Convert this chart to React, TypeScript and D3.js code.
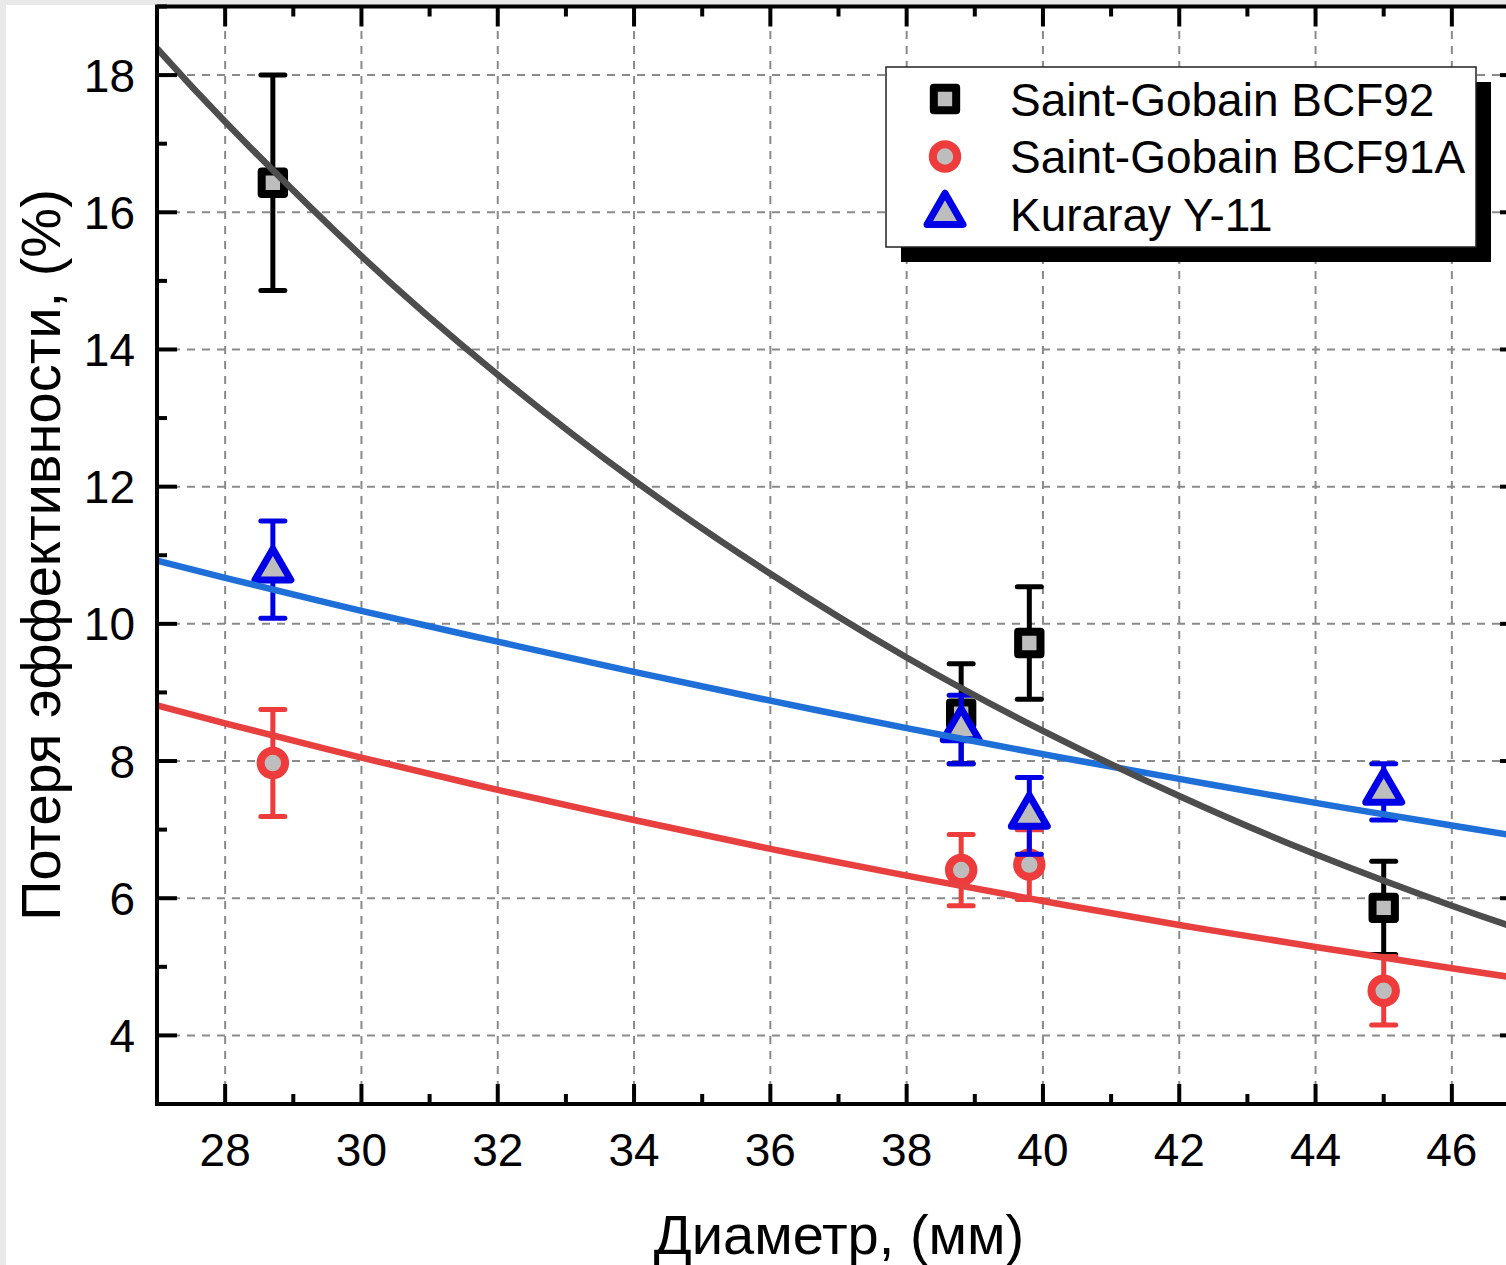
import React, { useEffect, useRef } from 'react';
import * as d3 from 'd3';

// measured points (mm, %)
const diameters = [28.7, 38.8, 39.8, 45.0];
const bcf92 = [16.43, 8.69, 9.72, 5.86];
const bcf92Err = [1.57, 0.73, 0.82, 0.68];
const bcf91a = [7.97, 6.41, 6.49, 4.65];
const bcf91aErr = [0.78, 0.52, 0.51, 0.5];
const y11 = [10.79, 8.46, 7.2, 7.55];
const y11Err = [0.71, 0.5, 0.56, 0.41];

// fit curves
const fitX = [27, 28, 30, 32, 34, 36, 38, 40, 42, 44, 46, 47];
const fit92 = [18.39, 17.32, 15.36, 13.63, 12.09, 10.73, 9.51, 8.44, 7.49, 6.64, 5.89, 5.55];
const fit91a = [8.81, 8.55, 8.05, 7.58, 7.14, 6.72, 6.33, 5.96, 5.61, 5.29, 4.98, 4.83];
const fitY11 = [10.92, 10.67, 10.19, 9.74, 9.3, 8.88, 8.48, 8.1, 7.74, 7.39, 7.06, 6.9];

const xTicks = [28, 30, 32, 34, 36, 38, 40, 42, 44, 46];
const yTicks = [4, 6, 8, 10, 12, 14, 16, 18];

const FONT = '"Liberation Sans", Arial, sans-serif';

export default function App() {
  const svgRef = useRef<SVGSVGElement>(null);

  useEffect(() => {
    const svg = d3.select(svgRef.current);
    svg.selectAll('*').remove();

    const W = 1506, H = 1265;
    const x = d3.scaleLinear().domain([27, 47]).range([157, 1520]);
    const y = d3.scaleLinear().domain([3, 19]).range([1104, 6.5]);
    const [x0, x1] = x.range();
    const [y0, y1] = y.range();

    // page frame
    svg.append('rect').attr('width', W).attr('height', H).attr('fill', '#e9e9e9');
    svg.append('rect').attr('x', 6).attr('y', 5).attr('width', W).attr('height', H).attr('fill', '#fff');

    svg.append('defs').append('clipPath').attr('id', 'plot')
      .append('rect').attr('x', x0).attr('y', y1).attr('width', x1 - x0).attr('height', y0 - y1);

    // grid
    const grid = svg.append('g').attr('stroke', '#8a8a8a').attr('stroke-width', 2).attr('stroke-dasharray', '8,7');
    xTicks.forEach(t => grid.append('line').attr('x1', x(t)).attr('x2', x(t)).attr('y1', y0).attr('y2', y1));
    yTicks.forEach(t => grid.append('line').attr('x1', x0).attr('x2', x1).attr('y1', y(t)).attr('y2', y(t)));

    const series = [
      { vals: bcf92, err: bcf92Err, color: '#000', sym: d3.symbolSquare, size: 500 },
      { vals: bcf91a, err: bcf91aErr, color: '#ee3b3b', sym: d3.symbolCircle, size: 470 },
      { vals: y11, err: y11Err, color: '#0000e6', sym: d3.symbolTriangle, size: 560 },
    ];

    const data = svg.append('g').attr('clip-path', 'url(#plot)');
    series.forEach(s => {
      diameters.forEach((d, i) => {
        const cx = x(d);
        const top = y(s.vals[i] + s.err[i]);
        const bot = y(s.vals[i] - s.err[i]);
        const eb = data.append('g').attr('stroke', s.color).attr('stroke-width', 5);
        eb.append('line').attr('x1', cx).attr('x2', cx).attr('y1', top).attr('y2', bot);
        eb.append('line').attr('x1', cx - 12).attr('x2', cx + 12).attr('y1', top).attr('y2', top).attr('stroke-linecap', 'round');
        eb.append('line').attr('x1', cx - 12).attr('x2', cx + 12).attr('y1', bot).attr('y2', bot).attr('stroke-linecap', 'round');
        data.append('path')
          .attr('d', d3.symbol(s.sym, s.size)())
          .attr('transform', `translate(${cx},${y(s.vals[i])})`)
          .attr('fill', '#bdbdbd')
          .attr('stroke', s.color)
          .attr('stroke-width', s.sym === d3.symbolTriangle ? 7 : 8)
          .attr('stroke-linejoin', 'round');
      });
    });

    // fit lines
    const line = d3.line<number>().x((_, i) => x(fitX[i])).y(v => y(v)).curve(d3.curveNatural);
    const fits = [
      { vals: fitY11, color: '#1f6fd9' },
      { vals: fit91a, color: '#e83f3f' },
      { vals: fit92, color: '#4d4d4d' },
    ];
    fits.forEach(f => {
      data.append('path').attr('d', line(f.vals)).attr('fill', 'none')
        .attr('stroke', f.color).attr('stroke-width', 6.5);
    });

    // axes frame and ticks
    const ax = svg.append('g').attr('stroke', '#000').attr('stroke-width', 4);
    ax.append('rect').attr('x', x0).attr('y', y1).attr('width', x1 - x0).attr('height', y0 - y1).attr('fill', 'none');
    d3.range(27, 48, 1).forEach(t => {
      const len = t % 2 === 0 ? 20 : 10;
      ax.append('line').attr('x1', x(t)).attr('x2', x(t)).attr('y1', y0).attr('y2', y0 - len);
      ax.append('line').attr('x1', x(t)).attr('x2', x(t)).attr('y1', y1).attr('y2', y1 + len);
    });
    d3.range(3, 20, 1).forEach(t => {
      const len = t % 2 === 0 ? 20 : 10;
      ax.append('line').attr('x1', x0).attr('x2', x0 + len).attr('y1', y(t)).attr('y2', y(t));
      ax.append('line').attr('x1', x1).attr('x2', x1 - len).attr('y1', y(t)).attr('y2', y(t));
    });

    // tick labels
    const lab = svg.append('g').attr('font-family', FONT).attr('font-size', 46).attr('fill', '#000');
    xTicks.forEach(t => lab.append('text').attr('x', x(t)).attr('y', 1166).attr('text-anchor', 'middle').text(t));
    yTicks.forEach(t => lab.append('text').attr('x', 135).attr('y', y(t) + 16.5).attr('text-anchor', 'end').text(t));

    // axis titles
    svg.append('text').attr('x', 839).attr('y', 1254).attr('text-anchor', 'middle')
      .attr('font-family', FONT).attr('font-size', 56).text('Диаметр, (мм)');
    svg.append('text').attr('transform', 'translate(60,555) rotate(-90)').attr('text-anchor', 'middle')
      .attr('font-family', FONT).attr('font-size', 56).text('Потеря эффективности, (%)');

    // legend
    const lg = svg.append('g');
    lg.append('rect').attr('x', 901).attr('y', 82).attr('width', 590).attr('height', 180).attr('fill', '#000');
    lg.append('rect').attr('x', 886).attr('y', 67).attr('width', 590).attr('height', 180)
      .attr('fill', '#fff').attr('stroke', '#222').attr('stroke-width', 1.5);
    const names = ['Saint-Gobain BCF92', 'Saint-Gobain BCF91A', 'Kuraray Y-11'];
    series.forEach((s, i) => {
      const cy = 99 + i * 57.5;
      lg.append('path')
        .attr('d', d3.symbol(s.sym, s.size)())
        .attr('transform', `translate(945,${cy})`)
        .attr('fill', '#bdbdbd').attr('stroke', s.color)
        .attr('stroke-width', s.sym === d3.symbolTriangle ? 7 : 8)
        .attr('stroke-linejoin', 'round');
      lg.append('text').attr('x', 1010).attr('y', cy + 16.5)
        .attr('font-family', FONT).attr('font-size', 46).text(names[i]);
    });
  }, []);

  return (
    <div style={{ position: 'absolute', left: 0, top: 0, width: 1506, height: 1265, overflow: 'hidden' }}>
      <svg ref={svgRef} width={1506} height={1265} style={{ display: 'block' }}></svg>
    </div>
  );
}
